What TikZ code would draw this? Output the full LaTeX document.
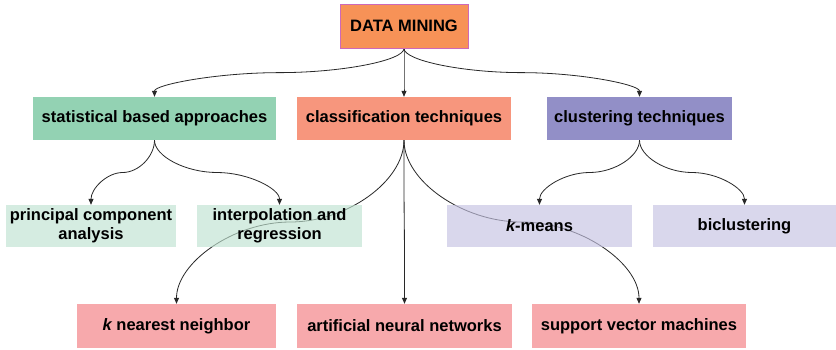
\documentclass[tikz,border=0pt]{standalone}
\usepackage{fontspec}
\setmainfont{Liberation Sans}
\usetikzlibrary{arrows.meta,calc}
\pgfdeclarelayer{bg}
\pgfdeclarelayer{lines}
\pgfsetlayers{bg,lines,main}
\definecolor{dmfill}{RGB}{247,146,87}
\definecolor{dmline}{RGB}{205,105,185}
\definecolor{statfill}{RGB}{147,210,179}
\definecolor{classfill}{RGB}{247,150,125}
\definecolor{clusfill}{RGB}{146,143,199}
\definecolor{lgreen}{RGB}{192,227,209}
\definecolor{llav}{RGB}{197,194,226}
\definecolor{lpink}{RGB}{247,169,172}
\definecolor{linecol}{RGB}{40,40,40}
\begin{document}
\begin{tikzpicture}[x=1pt,y=-1pt,
  box/.style={rectangle, inner sep=0pt, align=center, text=black, text opacity=1,
    font=\fontsize{16.5}{19}\selectfont\bfseries},
  lite/.style={box, fill opacity=0.65},
  ppt/.style={to path={let \p1=(\tikztostart), \p2=(\tikztotarget) in
    .. controls (\x1,{0.75*\y1+0.25*\y2}) and ({0.75*\x1+0.25*\x2},{0.5*\y1+0.5*\y2})
    .. ({0.5*\x1+0.5*\x2},{0.5*\y1+0.5*\y2})
    .. controls ({0.25*\x1+0.75*\x2},{0.5*\y1+0.5*\y2}) and (\x2,{0.25*\y1+0.75*\y2})
    .. (\tikztotarget) \tikztonodes}},
  conn/.style={draw=linecol, line width=0.8pt, -{Triangle[length=6pt,width=5pt]}, ppt}]
\begin{pgfonlayer}{bg}
\fill[white] (0,0) rectangle (836,349);
\end{pgfonlayer}
\useasboundingbox (0,0) rectangle (836,349);

\node[box, fill=dmfill, draw=dmline, line width=0.9pt, minimum width=128pt, minimum height=44pt] (dm) at (404,26) {DATA MINING};

\node[box, fill=statfill, minimum width=243pt, minimum height=43pt] (stat) at (154.5,118.5) {statistical based approaches};
\node[box, fill=classfill, minimum width=214pt, minimum height=43pt] (class) at (404,118.5) {classification techniques};
\node[box, fill=clusfill, minimum width=185pt, minimum height=43pt] (clus) at (639.5,118.5) {clustering techniques};

\node[lite, fill=lgreen, minimum width=170pt, minimum height=42pt] (pca) at (91,226) {principal component\\analysis};
\node[lite, fill=lgreen, minimum width=165pt, minimum height=42pt] (interp) at (279.5,226) {interpolation and\\regression};
\node[lite, fill=llav, minimum width=185pt, minimum height=42pt] (kmeans) at (539.5,226) {\itshape k\upshape-means};
\node[lite, fill=llav, minimum width=183pt, minimum height=42pt] (bic) at (744.5,226) {biclustering};

\node[box, fill=lpink, minimum width=199pt, minimum height=44pt] (knn) at (176.5,326) {\itshape k\upshape{} nearest neighbor};
\node[box, fill=lpink, minimum width=215pt, minimum height=44pt] (ann) at (404.5,326) {artificial neural networks};
\node[box, fill=lpink, minimum width=214pt, minimum height=44pt] (svm) at (639,326) {support vector machines};

\begin{pgfonlayer}{lines}
\draw[conn] (dm.south) to (stat.north);
\draw[conn] (dm.south) to (class.north);
\draw[conn] (dm.south) to (clus.north);
\draw[conn] (stat.south) to (pca.north);
\draw[conn] (stat.south) to (interp.north);
\draw[conn] (clus.south) to (kmeans.north);
\draw[conn] (clus.south) to (bic.north);
\draw[conn] (class.south) to (knn.north);
\draw[conn] (class.south) to (ann.north);
\draw[conn] (class.south) to (svm.north);
\end{pgfonlayer}
\end{tikzpicture}
\end{document}
